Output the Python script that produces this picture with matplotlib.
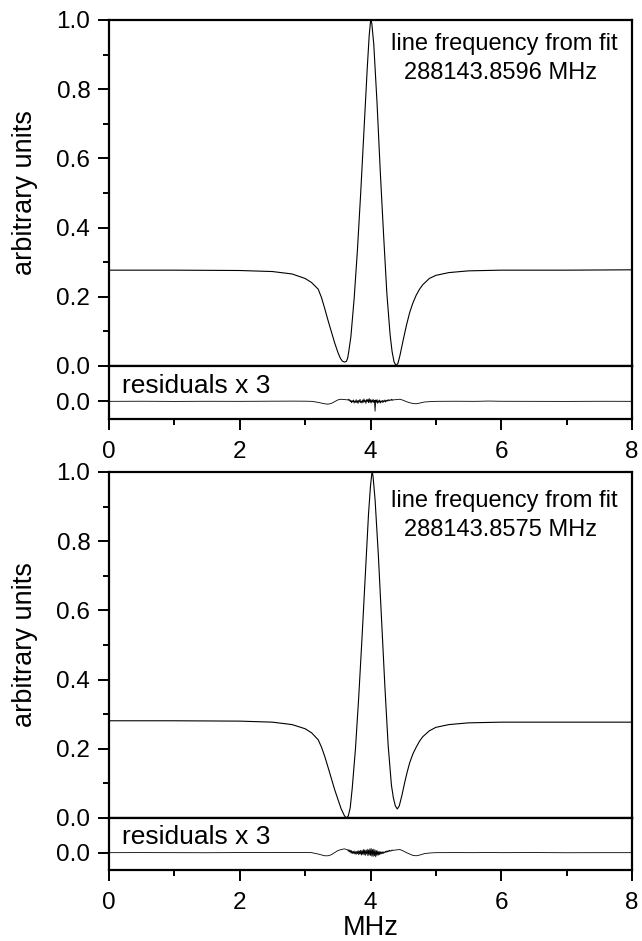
import numpy as np
import matplotlib
matplotlib.use('Agg')
import matplotlib.pyplot as plt
from matplotlib.ticker import MultipleLocator

plt.rcParams['font.family'] = ['Liberation Sans', 'DejaVu Sans']

# spectrum, upper panel
x_top = [0.0, 1.0, 2.0, 2.5, 2.8, 3.0, 3.1, 3.2, 3.25, 3.3, 3.35, 3.4, 3.45, 3.5, 3.54,
         3.57, 3.6, 3.63, 3.65, 3.67, 3.7, 3.75, 3.8, 3.85, 3.9, 3.95, 3.98, 4.0, 4.01,
         4.02, 4.05, 4.1, 4.15, 4.2, 4.25, 4.3, 4.33, 4.36, 4.39, 4.42, 4.45, 4.5, 4.55,
         4.6, 4.65, 4.7, 4.75, 4.8, 4.9, 5.0, 5.2, 5.5, 6.0, 7.0, 8.0]
y_top = [0.277, 0.277, 0.276, 0.273, 0.266, 0.253, 0.241, 0.222, 0.198, 0.166, 0.132,
         0.1, 0.068, 0.04, 0.022, 0.014, 0.0115, 0.013, 0.022, 0.045, 0.085, 0.195,
         0.335, 0.5, 0.68, 0.86, 0.955, 0.995, 0.998, 0.99, 0.93, 0.76, 0.56, 0.38, 0.21,
         0.09, 0.042, 0.012, 0.001, 0.008, 0.03, 0.075, 0.118, 0.155, 0.183, 0.205, 0.222,
         0.235, 0.253, 0.262, 0.27, 0.275, 0.277, 0.277, 0.278]

# spectrum, lower panel
x_bot = [0.0, 1.0, 2.0, 2.5, 2.8, 3.0, 3.1, 3.2, 3.25, 3.3, 3.35, 3.4, 3.45, 3.5, 3.55,
         3.6, 3.63, 3.66, 3.69, 3.72, 3.77, 3.82, 3.87, 3.92, 3.97, 4.0, 4.02, 4.03, 4.04,
         4.07, 4.12, 4.17, 4.22, 4.27, 4.32, 4.35, 4.38, 4.41, 4.44, 4.48, 4.52, 4.56,
         4.6, 4.65, 4.7, 4.75, 4.8, 4.9, 5.0, 5.2, 5.5, 6.0, 7.0, 8.0]
y_bot = [0.281, 0.281, 0.28, 0.277, 0.27, 0.258, 0.246, 0.226, 0.205, 0.178, 0.147,
         0.115, 0.083, 0.055, 0.027, 0.007, 0.0, 0.006, 0.03, 0.085, 0.2, 0.35, 0.52, 0.7,
         0.88, 0.96, 0.995, 0.998, 0.985, 0.92, 0.76, 0.57, 0.38, 0.21, 0.095, 0.058,
         0.035, 0.026, 0.035, 0.065, 0.1, 0.132, 0.16, 0.186, 0.205, 0.222, 0.235, 0.252,
         0.262, 0.27, 0.275, 0.277, 0.277, 0.277]

# residuals (x 3)
rx_left = [0.0, 0.5, 1.0, 1.5, 2.0, 2.5, 2.8, 3.0, 3.1, 3.2, 3.3, 3.35, 3.4, 3.45, 3.5, 3.55, 3.6]
rx_mid = list(np.round(np.arange(3.65, 4.355, 0.01), 2))
rx_right = [4.4, 4.45, 4.5, 4.55, 4.6, 4.65, 4.7, 4.75, 4.82, 4.9, 5.0, 5.3, 5.6, 5.8, 6.0,
            6.5, 7.0, 7.5, 8.0]
res_x = rx_left + rx_mid + rx_right

res_top = [0.0, 0.0003, -0.0002, 0.0002, 0.0, 0.0004, 0.0006, 0.0004, 0.0, -0.003, -0.007,
           -0.008, -0.006, -0.001, 0.004, 0.006, 0.005,
           0.004, 0.006, 0.002, 0.005, -0.001, 0.003, -0.004, 0.002, -0.002, 0.004,
           -0.005, 0.001, -0.003, 0.005, -0.004, 0.002, -0.006, 0.003, -0.002, 0.006,
           -0.004, 0.001, -0.005, 0.004, -0.003, 0.007, -0.002, 0.003, -0.006, 0.005,
           -0.001, 0.006, -0.004, 0.008, -0.003, 0.005, -0.005, 0.004, -0.002, 0.006,
           -0.004, 0.003, -0.028, 0.004, -0.003, 0.005, -0.006, 0.002, -0.003, 0.004,
           -0.005, 0.001, -0.002, 0.003, -0.004, 0.002, -0.001, 0.004, -0.002, 0.003,
           0.0, 0.004, 0.001, 0.005, 0.002, 0.004, 0.003, 0.006, 0.002, 0.005, 0.004,
           0.005, 0.006, 0.003, -0.001, -0.004, -0.006, -0.007, -0.005, -0.002, -0.001,
           0.0, 0.0003, 0.0, 0.0008, 0.0002, 0.0, -0.0002, 0.0002, 0.0]

res_bot = [0.0, 0.0002, 0.0, -0.0002, 0.0003, 0.0002, 0.0006, 0.0004, 0.0, -0.004, -0.009,
           -0.009, -0.006, 0.0, 0.006, 0.009, 0.011,
           0.008, 0.004, 0.009, 0.002, 0.007, -0.001, 0.006, -0.003, 0.004, -0.002,
           0.005, -0.004, 0.003, -0.005, 0.004, -0.003, 0.006, -0.006, 0.005, -0.004,
           0.007, -0.007, 0.006, -0.005, 0.009, -0.006, 0.008, -0.008, 0.007, -0.004,
           0.010, -0.009, 0.008, -0.007, 0.011, -0.008, 0.012, -0.010, 0.009, -0.011,
           0.010, -0.009, 0.008, -0.012, 0.006, -0.008, 0.005, -0.007, 0.004, -0.006,
           0.003, -0.004, 0.002, -0.003, 0.003, -0.002, 0.002, 0.0, 0.004, 0.001, 0.005,
           0.002, 0.006, 0.003, 0.007, 0.004, 0.006, 0.005, 0.008, 0.006, 0.007,
           0.008, 0.009, 0.005, 0.0, -0.004, -0.008, -0.009, -0.007, -0.003, -0.001,
           0.0, 0.0002, 0.0, 0.0006, 0.0, 0.0003, -0.0002, 0.0, 0.0]

fit_title = 'line frequency from fit'
fit_freqs = ['288143.8596 MHz', '288143.8575 MHz']

W, H = 642, 941
fig = plt.figure(figsize=(W / 100, H / 100), dpi=100)


def box(top, bottom):
    return [109 / W, 1 - bottom / H, (632 - 109) / W, (bottom - top) / H]


def style(ax):
    for s in ax.spines.values():
        s.set_linewidth(1.6)
    ax.tick_params(which='major', direction='out', length=8, width=1.4, labelsize=17.5)
    ax.tick_params(axis='y', which='major', pad=5.5)
    ax.tick_params(axis='x', which='major', pad=7.5)
    ax.tick_params(which='minor', direction='out', length=4, width=1.4)
    ax.set_xlim(0, 8)


panels = [(20, 366, 419, x_top, y_top, res_top, fit_freqs[0], (0.93, 0.846)),
          (472, 818, 870, x_bot, y_bot, res_bot, fit_freqs[1], (0.916, 0.832))]

for i, (t, m, b, xs, ys, rs, freq, ty) in enumerate(panels):
    ax = fig.add_axes(box(t, m))
    ax.plot(xs, ys, color='black', lw=0.8)
    style(ax)
    ax.set_ylim(0, 1)
    ax.yaxis.set_major_locator(MultipleLocator(0.2))
    ax.yaxis.set_minor_locator(MultipleLocator(0.1))
    ax.tick_params(axis='x', which='both', bottom=False, labelbottom=False)
    ax.set_ylabel('arbitrary units', fontsize=19.5)
    ax.yaxis.set_label_coords(-0.136, 0.5)
    ax.text(6.05, ty[0], fit_title, ha='center', va='center', fontsize=17)
    ax.text(5.99, ty[1], freq, ha='center', va='center', fontsize=17)

    rax = fig.add_axes(box(m, b))
    rax.plot(res_x, rs, color='black', lw=0.6)
    style(rax)
    rax.set_ylim(-0.05, 0.10)
    rax.set_yticks([0.0])
    rax.set_yticklabels(['0.0'])
    rax.xaxis.set_major_locator(MultipleLocator(2))
    rax.xaxis.set_minor_locator(MultipleLocator(1))
    rax.text(0.2, 0.0236, 'residuals x 3', fontsize=19, va='baseline')
    if i == 1:
        rax.set_xlabel('MHz', fontsize=19.5, labelpad=1)

fig.savefig('out.png', dpi=100)
